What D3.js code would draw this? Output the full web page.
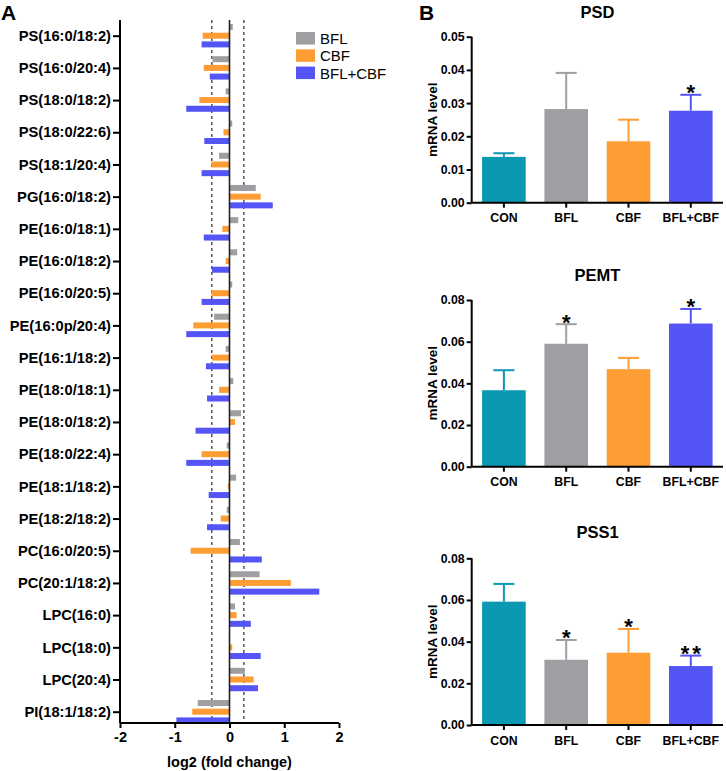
<!DOCTYPE html>
<html>
<head>
<meta charset="utf-8">
<script src="https://cdn.jsdelivr.net/npm/d3@7"></script>
<style>
  body { margin: 0; background: #fff; }
  svg { display: block; font-family: "Liberation Sans", Arial, sans-serif; }
</style>
</head>
<body>
<svg id="chart" width="726" height="771"></svg>
<script>
// ---- panel A data: log2 fold change vs CON ----
const lipids = [
  "PS(16:0/18:2)", "PS(16:0/20:4)", "PS(18:0/18:2)", "PS(18:0/22:6)", "PS(18:1/20:4)",
  "PG(16:0/18:2)", "PE(16:0/18:1)", "PE(16:0/18:2)", "PE(16:0/20:5)", "PE(16:0p/20:4)",
  "PE(16:1/18:2)", "PE(18:0/18:1)", "PE(18:0/18:2)", "PE(18:0/22:4)", "PE(18:1/18:2)",
  "PE(18:2/18:2)", "PC(16:0/20:5)", "PC(20:1/18:2)", "LPC(16:0)", "LPC(18:0)",
  "LPC(20:4)", "PI(18:1/18:2)"
];
const bflFC   = [0.06, -0.31, -0.07, 0.05, -0.19, 0.48, 0.16, 0.14, 0.05, -0.28, -0.07, 0.07, 0.21, -0.05, 0.12, -0.05, 0.19, 0.55, 0.10, 0.01, 0.28, -0.58];
const cbfFC   = [-0.49, -0.47, -0.55, -0.11, -0.33, 0.57, -0.13, -0.07, -0.33, -0.66, -0.32, -0.19, 0.10, -0.51, -0.03, -0.16, -0.71, 1.12, 0.13, 0.05, 0.44, -0.68];
const comboFC = [-0.51, -0.36, -0.79, -0.46, -0.51, 0.79, -0.47, -0.32, -0.51, -0.79, -0.43, -0.41, -0.62, -0.79, -0.38, -0.41, 0.59, 1.64, 0.39, 0.57, 0.52, -0.97];
const seriesNames = ["BFL", "CBF", "BFL+CBF"];
const fcTicks = [-2, -1, 0, 1, 2];
const cutoffs = [Math.log2(0.8), Math.log2(1.2)];

// ---- panel B data: mRNA level (mean, sem) ----
const groups = ["CON", "BFL", "CBF", "BFL+CBF"];
const psdMean  = [0.0138, 0.0282, 0.0185, 0.0277];
const psdSem   = [0.0011, 0.0109, 0.0065, 0.0048];
const psdSig   = ["", "", "", "*"];
const pemtMean = [0.0367, 0.0590, 0.0468, 0.0687];
const pemtSem  = [0.0096, 0.0094, 0.0054, 0.0070];
const pemtSig  = ["", "*", "", "*"];
const pss1Mean = [0.0592, 0.0313, 0.0347, 0.0283];
const pss1Sem  = [0.0085, 0.0095, 0.0114, 0.0050];
const pss1Sig  = ["", "*", "*", "**"];

const COLORS = { CON: "#0a98b3", BFL: "#9e9ea3", CBF: "#fd9d33", "BFL+CBF": "#5555f6" };
const FONT = "Liberation Sans, Arial, sans-serif";

const svg = d3.select("#chart");

// =========================
// PANEL A
// =========================
const A = { left: 120, right: 339, top: 20, bottom: 723 };

svg.append("text").attr("x", 1).attr("y", 20)
  .attr("font-size", 21).attr("font-weight", "bold").text("A");

const x = d3.scaleLinear().domain([-2, 2]).range([A.left, A.right]);
const y = d3.scalePoint().domain(lipids).range([35.7, 711.7]);
const barH = 6, barOff = 8.7;

const gA = svg.append("g");

// cutoff lines
cutoffs.forEach(c => {
  gA.append("line")
    .attr("x1", x(c)).attr("x2", x(c))
    .attr("y1", A.top).attr("y2", A.bottom)
    .attr("stroke", "#000").attr("stroke-width", 1)
    .attr("stroke-dasharray", "3,3");
});

const fcSeries = [bflFC, cbfFC, comboFC];
fcSeries.forEach((vals, s) => {
  gA.selectAll(".bar-s" + s)
    .data(vals)
    .join("rect")
    .attr("class", "bar-s" + s)
    .attr("x", v => x(Math.min(0, v)))
    .attr("width", v => Math.abs(x(v) - x(0)))
    .attr("y", (v, i) => y(lipids[i]) + (s - 1) * barOff - barH / 2)
    .attr("height", barH)
    .attr("fill", COLORS[seriesNames[s]]);
});

// zero line
gA.append("line")
  .attr("x1", x(0)).attr("x2", x(0))
  .attr("y1", A.top).attr("y2", A.bottom)
  .attr("stroke", "#222").attr("stroke-width", 1.6);

// y axis
const yAxisA = gA.append("g")
  .attr("transform", `translate(${A.left},0)`)
  .call(d3.axisLeft(y).tickSize(7).tickPadding(2));
yAxisA.select(".domain").remove();
yAxisA.append("line").attr("x1", 0).attr("x2", 0).attr("y1", A.top).attr("y2", A.bottom)
  .attr("stroke", "#000").attr("stroke-width", 2);
yAxisA.selectAll(".tick line").attr("stroke-width", 2);
yAxisA.selectAll(".tick text")
  .attr("font-family", FONT)
  .attr("font-size", 14.7).attr("font-weight", "bold").attr("fill", "#000");

// x axis
const xAxisA = gA.append("g")
  .attr("transform", `translate(0,${A.bottom})`)
  .call(d3.axisBottom(x).tickValues(fcTicks).tickFormat(d3.format("d")).tickSize(5).tickPadding(4));
xAxisA.select(".domain").attr("stroke-width", 2).attr("d", `M${A.left},0H${A.right}`);
xAxisA.selectAll(".tick line").attr("stroke-width", 2);
xAxisA.selectAll(".tick text")
  .attr("font-family", FONT)
  .attr("font-size", 14.5).attr("font-weight", "bold").attr("fill", "#000")
  .text(d => d < 0 ? "-" + Math.abs(d) : d);

gA.append("text")
  .attr("x", x(0)).attr("y", 767)
  .attr("text-anchor", "middle")
  .attr("font-size", 14.5).attr("font-weight", "bold")
  .text("log2 (fold change)");

// legend
const legG = svg.append("g").attr("transform", "translate(296,32)");
seriesNames.forEach((n, i) => {
  legG.append("rect")
    .attr("x", 0).attr("y", i * 17.3)
    .attr("width", 19).attr("height", 12.5)
    .attr("fill", COLORS[n]);
  legG.append("text")
    .attr("x", 24).attr("y", i * 17.3 + 6.5)
    .attr("dominant-baseline", "central")
    .attr("font-size", 15)
    .text(n);
});

// =========================
// PANEL B
// =========================
svg.append("text").attr("x", 419).attr("y", 20)
  .attr("font-size", 21).attr("font-weight", "bold").text("B");

const panels = [
  { title: "PSD",  mean: psdMean,  sem: psdSem,  sig: psdSig,  max: 0.05, step: 0.01, top: 36.7,  bottom: 202.7, titleY: 17.5 },
  { title: "PEMT", mean: pemtMean, sem: pemtSem, sig: pemtSig, max: 0.08, step: 0.02, top: 300,   bottom: 466.7, titleY: 281 },
  { title: "PSS1", mean: pss1Mean, sem: pss1Sem, sig: pss1Sig, max: 0.08, step: 0.02, top: 558.3, bottom: 725,   titleY: 537.5 }
];

const bx = d3.scaleBand().domain(groups).range([471.7, 723]).paddingInner(0.3).paddingOuter(0.167);

panels.forEach(p => {
  const g = svg.append("g");
  const py = d3.scaleLinear().domain([0, p.max]).range([p.bottom, p.top]);

  g.append("text")
    .attr("x", 597.5).attr("y", p.titleY)
    .attr("text-anchor", "middle")
    .attr("font-size", 16.5).attr("font-weight", "bold")
    .text(p.title);

  // bars
  g.selectAll(".bar")
    .data(groups)
    .join("rect")
    .attr("class", "bar")
    .attr("x", d => bx(d))
    .attr("width", bx.bandwidth())
    .attr("y", (d, i) => py(p.mean[i]))
    .attr("height", (d, i) => py(0) - py(p.mean[i]))
    .attr("fill", d => COLORS[d]);

  // error bars (upper whisker only)
  groups.forEach((d, i) => {
    const cx = bx(d) + bx.bandwidth() / 2;
    const yTop = py(p.mean[i] + p.sem[i]);
    g.append("line")
      .attr("x1", cx).attr("x2", cx)
      .attr("y1", py(p.mean[i])).attr("y2", yTop)
      .attr("stroke", COLORS[d]).attr("stroke-width", 2);
    g.append("line")
      .attr("x1", cx - 10.5).attr("x2", cx + 10.5)
      .attr("y1", yTop).attr("y2", yTop)
      .attr("stroke", COLORS[d]).attr("stroke-width", 2);
    if (p.sig[i]) {
      g.append("text")
        .attr("x", cx + (p.sig[i].length > 1 ? 1.5 : 0)).attr("y", yTop + 5.5)
        .attr("text-anchor", "middle")
        .attr("font-size", 22).attr("font-weight", "bold")
        .attr("letter-spacing", p.sig[i].length > 1 ? 3 : 0)
        .text(p.sig[i]);
    }
  });

  // y axis
  const ya = g.append("g")
    .attr("transform", `translate(471.7,0)`)
    .call(d3.axisLeft(py).tickValues(d3.range(0, p.max + p.step / 2, p.step))
      .tickFormat(d3.format(".2f")).tickSize(5).tickPadding(2));
  ya.select(".domain").attr("stroke-width", 2).attr("d", `M0,${p.top}V${p.bottom}`);
  ya.selectAll(".tick line").attr("stroke-width", 2);
  ya.selectAll(".tick text")
    .attr("font-family", FONT)
    .attr("font-size", 12.3).attr("font-weight", "bold").attr("fill", "#000");

  // x axis
  const xa = g.append("g")
    .attr("transform", `translate(0,${p.bottom})`)
    .call(d3.axisBottom(bx).tickSize(5).tickPadding(6));
  xa.select(".domain").attr("stroke-width", 2).attr("d", `M471.7,0H723`);
  xa.selectAll(".tick line").attr("stroke-width", 2);
  xa.selectAll(".tick text")
    .attr("font-family", FONT)
    .attr("font-size", 12.3).attr("font-weight", "bold").attr("fill", "#000");

  g.append("text")
    .attr("transform", `translate(437,${(p.top + p.bottom) / 2}) rotate(-90)`)
    .attr("text-anchor", "middle")
    .attr("font-size", 13.5).attr("font-weight", "bold")
    .text("mRNA level");
});
</script>
</body>
</html>
